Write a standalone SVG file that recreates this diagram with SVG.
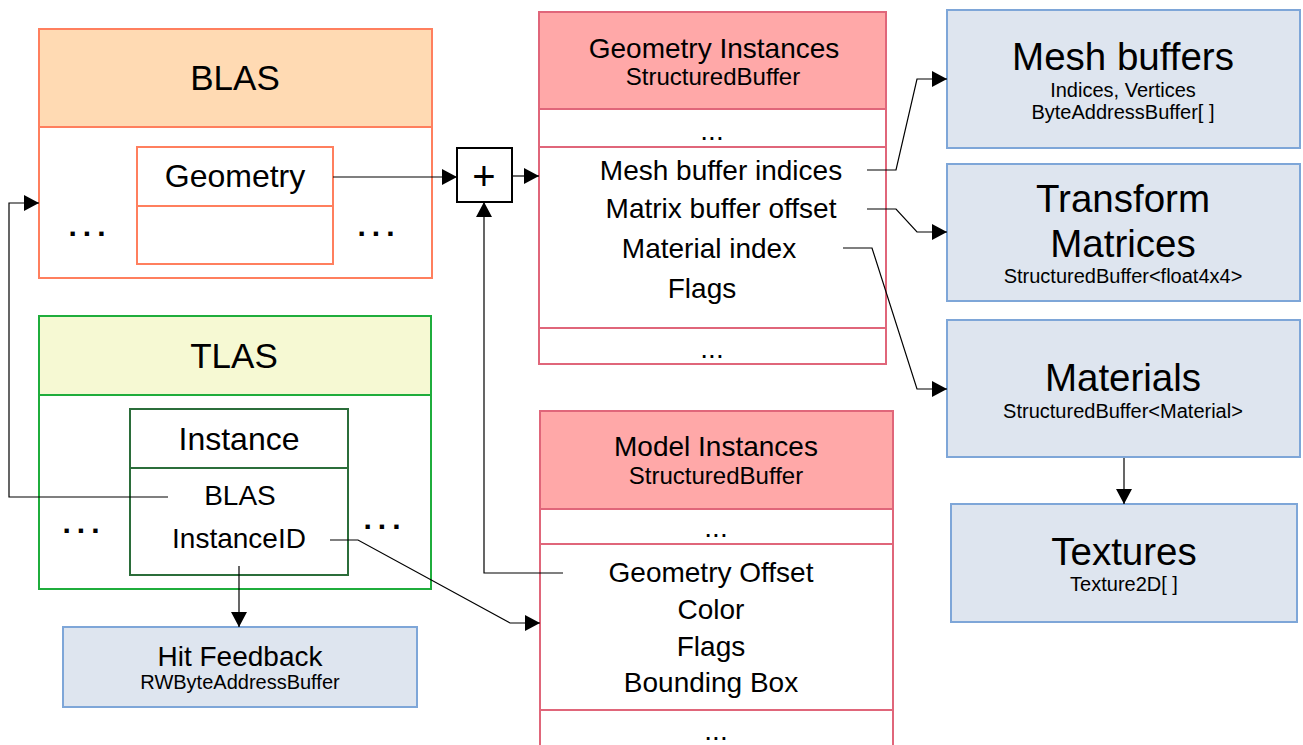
<svg xmlns="http://www.w3.org/2000/svg" width="1303" height="745" viewBox="0 0 1303 745">
<defs>
<style>
text{font-family:"Liberation Sans",Arial,sans-serif;fill:#000;text-anchor:middle}
.blas{fill:#fff;stroke:#ff7f5e;stroke-width:2}
.blash{fill:#ffdab3;stroke:#ff7f5e;stroke-width:2}
.tlas{fill:#fff;stroke:#1fad3c;stroke-width:2}
.tlash{fill:#f6f9d3;stroke:#1fad3c;stroke-width:2}
.inst{fill:#fff;stroke:#2b6d3a;stroke-width:2}
.pink{fill:#fff;stroke:#e0667a;stroke-width:2}
.pinkh{fill:#ffa8a8;stroke:#e0667a;stroke-width:2}
.blue{fill:#dee5ef;stroke:#7ea6d8;stroke-width:2}
.plus{fill:#fff;stroke:#000;stroke-width:2}
.c{fill:none;stroke:#000;stroke-width:1.2;marker-end:url(#ah)}
.t35{font-size:35px}.t38{font-size:38.5px}.t32{font-size:32px}.t28{font-size:28px}.t24{font-size:24px}.t20{font-size:20px}
.dots{font-size:30px;font-weight:bold;letter-spacing:6px}
</style>
<marker id="ah" markerUnits="userSpaceOnUse" markerWidth="16" markerHeight="16" refX="15" refY="8" orient="auto">
<path d="M0,0 L15,8 L0,16 Z" fill="#000"/>
</marker>
</defs>

<g id="blas">
<rect class="blas" x="39" y="29" width="393" height="249"/>
<rect class="blash" x="39" y="29" width="393" height="98"/>
<text class="t35" x="235" y="90">BLAS</text>
<rect class="blas" x="137" y="147" width="196" height="117"/>
<line x1="137" y1="206" x2="333" y2="206" stroke="#ff7f5e" stroke-width="2"/>
<text class="t32" x="235" y="187">Geometry</text>
<text class="dots" x="90" y="236">...</text>
<text class="dots" x="379" y="236">...</text>
</g>

<g id="tlas">
<rect class="tlas" x="39" y="316" width="392" height="273"/>
<rect class="tlash" x="39" y="316" width="392" height="79"/>
<text class="t35" x="234" y="368">TLAS</text>
<text class="dots" x="84" y="533">...</text>
<text class="dots" x="385" y="529">...</text>
</g>

<g id="instance">
<rect class="inst" x="130" y="409" width="218" height="166"/>
<line x1="130" y1="468" x2="348" y2="468" stroke="#2b6d3a" stroke-width="2"/>
<text class="t32" x="239" y="450">Instance</text>
<text class="t28" x="240" y="505">BLAS</text>
<text class="t28" x="239" y="548">InstanceID</text>
</g>

<g id="hit-feedback">
<rect class="blue" x="63" y="627" width="354" height="80"/>
<text class="t28" x="240" y="666">Hit Feedback</text>
<text class="t20" x="240" y="689">RWByteAddressBuffer</text>
</g>

<g id="plus">
<rect class="plus" x="457" y="148" width="55" height="54"/>
<text x="484" y="190" style="font-size:40px">+</text>
</g>

<g id="geometry-instances">
<rect class="pink" x="539" y="12" width="347" height="352"/>
<rect class="pinkh" x="539" y="12" width="347" height="97"/>
<line x1="539" y1="147" x2="886" y2="147" stroke="#e0667a" stroke-width="2"/>
<line x1="539" y1="328" x2="886" y2="328" stroke="#e0667a" stroke-width="2"/>
<text class="t28" x="714" y="58">Geometry Instances</text>
<text class="t24" x="713" y="85">StructuredBuffer</text>
<text class="t28" x="712" y="140">...</text>
<text class="t28" x="721" y="180">Mesh buffer indices</text>
<text class="t28" x="721" y="218">Matrix buffer offset</text>
<text class="t28" x="709" y="258">Material index</text>
<text class="t28" x="702" y="298">Flags</text>
<text class="t28" x="712" y="358">...</text>
</g>

<g id="model-instances">
<rect class="pink" x="540" y="411" width="353" height="345"/>
<rect class="pinkh" x="540" y="411" width="353" height="98"/>
<line x1="540" y1="544" x2="893" y2="544" stroke="#e0667a" stroke-width="2"/>
<line x1="540" y1="710" x2="893" y2="710" stroke="#e0667a" stroke-width="2"/>
<text class="t28" x="716" y="456">Model Instances</text>
<text class="t24" x="716" y="484">StructuredBuffer</text>
<text class="t28" x="716" y="537">...</text>
<text class="t28" x="711" y="582">Geometry Offset</text>
<text class="t28" x="711" y="619">Color</text>
<text class="t28" x="711" y="656">Flags</text>
<text class="t28" x="711" y="692">Bounding Box</text>
<text class="t28" x="716" y="740">...</text>
</g>

<g id="mesh-buffers">
<rect class="blue" x="947" y="10" width="353" height="138"/>
<text class="t38" x="1123" y="70">Mesh buffers</text>
<text class="t20" x="1123" y="97">Indices, Vertices</text>
<text class="t20" x="1123" y="119">ByteAddressBuffer[ ]</text>
</g>

<g id="transform-matrices">
<rect class="blue" x="947" y="164" width="353" height="137"/>
<text class="t38" x="1123" y="212">Transform</text>
<text class="t38" x="1123" y="257">Matrices</text>
<text class="t20" x="1123" y="283">StructuredBuffer&lt;float4x4&gt;</text>
</g>

<g id="materials">
<rect class="blue" x="947" y="320" width="353" height="137"/>
<text class="t38" x="1123" y="391">Materials</text>
<text class="t20" x="1123" y="418">StructuredBuffer&lt;Material&gt;</text>
</g>

<g id="textures">
<rect class="blue" x="951" y="504" width="346" height="118"/>
<text class="t38" x="1124" y="565">Textures</text>
<text class="t20" x="1124" y="591">Texture2D[ ]</text>
</g>

<g id="connectors">
<path class="c" d="M333,177 H457"/>
<path class="c" d="M512,176 H539"/>
<path class="c" d="M563,573 H484 V202"/>
<path class="c" d="M168,497 H9 V203 H39"/>
<path class="c" d="M330,540 H358 L510,623 H540"/>
<path class="c" d="M239,566 V627"/>
<path class="c" d="M867,170 H896 L917,79 H947"/>
<path class="c" d="M867,209 H896 L917,232 H947"/>
<path class="c" d="M843,248 H872 L917,389 H947"/>
<path class="c" d="M1124,458 V504"/>
</g>
</svg>
